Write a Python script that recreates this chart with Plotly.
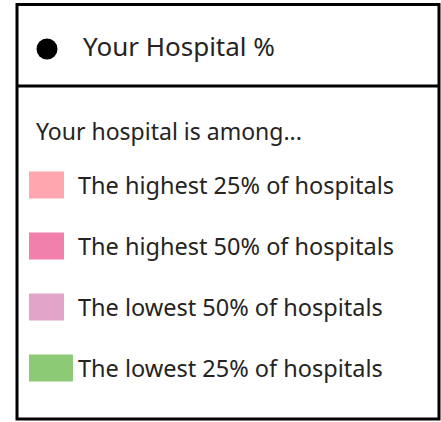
import plotly.graph_objects as go

# legend content
header_label = "Your Hospital %"
intro_text = "Your hospital is among..."
categories = [
    "The highest 25% of hospitals",
    "The highest 50% of hospitals",
    "The lowest 50% of hospitals",
    "The lowest 25% of hospitals",
]
colors = ["#FFA6AE", "#F180AA", "#E0A5C9", "#8CCA76"]

# layout (pixels of the 441x422 canvas)
W, H = 441, 422
swatch_left = 29
swatch_widths = [35, 35, 35, 44]
swatch_height = 27
row_top = 185
row_step = 61
label_x = 76
text_color = "#252423"
font_family = "Noto Sans"

fig = go.Figure()

rows_y = [row_top + i * row_step for i in range(len(categories))]

# colour swatches
for cat, col, w, y in zip(categories, colors, swatch_widths, rows_y):
    fig.add_trace(go.Bar(
        x=[w], y=[y], base=[swatch_left], orientation="h",
        width=swatch_height, marker=dict(color=col, line=dict(width=0)),
        name=cat, showlegend=False, hoverinfo="skip"
    ))
    fig.add_annotation(
        x=label_x, y=y, text=cat, showarrow=False,
        xanchor="left", yanchor="middle",
        font=dict(family=font_family, size=23.5, color=text_color)
    )

# "your hospital" marker
fig.add_trace(go.Scatter(
    x=[47], y=[49], mode="markers",
    marker=dict(color="black", size=21, symbol="circle"),
    showlegend=False, hoverinfo="skip"
))
fig.add_annotation(
    x=81, y=46, text=header_label, showarrow=False,
    xanchor="left", yanchor="middle",
    font=dict(family=font_family, size=26, color=text_color)
)
fig.add_annotation(
    x=34, y=131, text=intro_text, showarrow=False,
    xanchor="left", yanchor="middle",
    font=dict(family=font_family, size=23, color=text_color)
)

# frame and divider
fig.add_shape(type="rect", x0=17, x1=439, y0=4.5, y1=419,
              line=dict(color="black", width=3))
fig.add_shape(type="line", x0=17, x1=439, y0=86, y1=86,
              line=dict(color="black", width=3))

fig.update_xaxes(range=[0, W], visible=False, fixedrange=True)
fig.update_yaxes(range=[H, 0], visible=False, fixedrange=True)
fig.update_layout(
    width=W, height=H,
    margin=dict(l=0, r=0, t=0, b=0),
    paper_bgcolor="white", plot_bgcolor="white",
    barmode="overlay",
)

# page body margin would shift the canvas, so drop it
fig.write_html("out.html", config={"displayModeBar": False},
               post_script="document.body.style.margin='0';")
